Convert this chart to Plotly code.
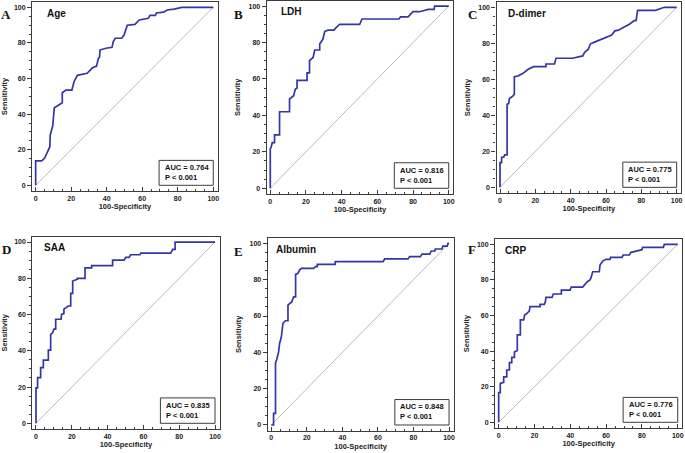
import plotly.graph_objects as go

# ---------------- data ----------------
markers = ["Age", "LDH", "D-dimer", "SAA", "Albumin", "CRP"]
panel_letters = ["A", "B", "C", "D", "E", "F"]
auc_values = ["0.764", "0.816", "0.775", "0.835", "0.848", "0.776"]
p_values = ["< 0.001", "< 0.001", "< 0.001", "< 0.001", "< 0.001", "< 0.001"]
tick_values = [0, 20, 40, 60, 80, 100]

age_fpr = [0, 0, 3.4, 5, 8, 8.2, 9.6, 10.5, 12.8, 15, 15, 17, 20.4, 21.6, 23.5, 29, 32, 34.3, 35.3, 36, 36.2,
           39.6, 43, 43.7, 44.8, 48.4, 49.7, 51.6, 55.9, 58.3, 63.4, 64.4, 67.4, 68, 72, 74, 78, 82.2, 100]
age_sens = [0, 13.7, 13.7, 15.2, 21.7, 28.3, 33.3, 43.6, 45, 46.4, 52, 53.5, 53.5, 58.2, 61.8, 62.9, 66, 67, 71.3,
            72, 76, 77, 77.5, 80.7, 82.6, 82.6, 84.3, 89.9, 90.4, 92.9, 93.8, 95.5, 95.5, 96.8, 97.3, 98.5, 99, 100, 100]

ldh_fpr = [0, 0, 0.5, 1.1, 2.4, 2.4, 5.2, 5.2, 10.8, 10.8, 13.1, 14, 15, 15, 20.6, 20.6, 22, 22, 24, 24.9,
           27.7, 27.7, 29.5, 30.5, 32.3, 35.7, 37, 38.9, 50.1, 51.4, 72.1, 73, 77.2, 79, 80, 83.7, 88.4, 91.8, 92.1, 100]
ldh_sens = [0, 21.6, 22.5, 25, 25, 29.3, 29.3, 42, 42, 49, 50.8, 54.3, 55, 59.2, 59.2, 63.3, 63.3, 70, 71.8, 75.9,
            75.9, 79.2, 81.9, 86, 86.8, 86.8, 88.3, 89.9, 89.9, 92.9, 92.9, 94.1, 94.1, 95.6, 96.9, 96.9, 98.2, 98.2, 100, 100]

ddimer_fpr = [0, 0, 0.9, 0.9, 2.1, 2.6, 4, 4, 4.9, 5.3, 7.2, 8.1, 8.1, 10, 13, 16, 18.9, 26, 26, 30.8,
              31.7, 41, 46.8, 47.9, 50, 51.1, 52.8, 57.7, 63.2, 65, 67, 70, 73.2, 76, 77, 77.9, 88, 93, 100]
ddimer_sens = [0, 13.7, 13.7, 16.7, 16.7, 18, 18, 46.1, 46.5, 49.3, 50.7, 51.7, 61.5, 61.8, 63.3, 65.6, 67, 67, 68.5, 68.5,
               71.7, 71.7, 73, 75, 76.7, 79.6, 80.4, 82.2, 84.6, 86.9, 87.3, 88.9, 90.6, 92.6, 92.6, 98.3, 98.3, 100, 100]

saa_fpr = [0, 0, 0.9, 0.9, 2.6, 2.6, 4.1, 4.1, 6.9, 6.9, 8.2, 8.2, 9.3, 10, 11, 11, 14, 14.3, 15.6, 15.6,
           18, 19.4, 19.4, 20.5, 20.5, 23.1, 23.1, 27.4, 27.4, 31.1, 31.1, 42.8, 42.8, 49.2, 50.1, 52, 52.9, 58.1, 58.5, 75.2,
           76.4, 77.7, 77.7, 100]
saa_sens = [0, 19.5, 19.5, 25.2, 25.2, 30.7, 30.7, 34.9, 34.9, 40.4, 40.4, 49.1, 50, 52, 52, 57.4, 57.4, 60.1, 60.5, 63,
            64.7, 64.7, 71.7, 71.7, 78.5, 79.5, 80, 80, 85.8, 85.8, 87, 87, 90, 90, 91.5, 91.5, 93, 93, 93.9, 93.9,
            96, 96, 100, 100]

albumin_fpr = [0, 1.3, 1.3, 2.4, 2.4, 3, 4.1, 4.7, 5.6, 6.6, 7.9, 9.4, 9.4, 11.6, 12.6, 13.7, 13.7, 15, 15.9, 16.9,
               23.8, 25, 25.9, 25.9, 36, 36, 62.9, 63.8, 76.9, 77.9, 83.9, 84.8, 89.1, 90, 92, 92.3, 96, 96.5, 99, 99.4, 100]
albumin_sens = [0, 0, 6.4, 6.4, 34.3, 35.8, 40, 45, 48, 56, 57.4, 57.4, 66, 67.9, 70.5, 70.5, 82.9, 83.5, 85.3, 86.2,
                86.2, 87.2, 87.2, 88.4, 88.4, 89.9, 89.9, 91.4, 91.4, 92.7, 92.7, 94.1, 94.1, 95.8, 95.8, 96.9, 96.9, 98.5, 98.5, 100, 100]

crp_fpr = [0, 0, 0.9, 0.9, 2.8, 2.8, 4.5, 4.5, 6, 6, 7.3, 7.3, 8.8, 8.8, 10.4, 10.4, 12.1, 12.1, 14, 14.5,
           15.8, 17.1, 17.5, 23.1, 23.1, 25.5, 26, 26.4, 29.8, 30.5, 35, 35, 39.9, 40.5, 46.9, 47.9, 49, 49.5, 51, 51.6,
           52.5, 56.2, 56.6, 58.1, 59.9, 62.2, 62.5, 68.9, 69.5, 73, 73.9, 77.3, 78, 80, 80.4, 92, 92.5, 100]
crp_sens = [0, 16.7, 16.7, 21.9, 22.5, 25.5, 25.5, 29.4, 29.4, 33.5, 33.5, 36.5, 36.5, 39.5, 40.4, 49.1, 49.1, 57.5, 57.5, 60.3,
            61.2, 62.5, 65, 65, 66.3, 66.3, 67.4, 70.2, 70.2, 72.1, 72.1, 74.3, 74.3, 76, 76, 77.2, 78, 79, 80, 81.3,
            84.6, 84.6, 88.4, 90.6, 91.6, 91.6, 92.7, 92.7, 94, 94, 95.5, 96, 96.5, 97, 98.3, 98.3, 100, 100]

curves_fpr = [age_fpr, ldh_fpr, ddimer_fpr, saa_fpr, albumin_fpr, crp_fpr]
curves_sens = [age_sens, ldh_sens, ddimer_sens, saa_sens, albumin_sens, crp_sens]

# ---------------- layout / style ----------------
W, H = 685, 453
# plot frame in pixels: left, right, top, bottom
frames = [(32.1, 217.7, 1.96, 191.0), (266.7, 453.2, 0.6, 194.1), (496.5, 681.1, 1.9, 193.1),
          (32.4, 219.5, 236.6, 429.1), (267.7, 453.5, 237.9, 430.8), (495.1, 682.2, 239.0, 428.0)]
letter_pos = [(6, 15), (239, 14), (472, 14), (6, 249.5), (239, 251), (472, 249)]
title_x = [5, 4.7, 3.4, 3.2, 1.5, 2.6]

XR = [-2, 102.5]
YR = [-3.2, 103]
AX_COLOR = "#3c3c3c"
CURVE_COLOR = "#3535a3"
SANS = "Liberation Sans"
SERIF = "Liberation Serif"

fig = go.Figure()
layout = dict(width=W, height=H, margin=dict(l=0, r=0, t=0, b=0),
              paper_bgcolor="white", plot_bgcolor="white", showlegend=False)
annotations = []
shapes = []

for i in range(6):
    k = "" if i == 0 else str(i + 1)
    xa, ya = "x" + k, "y" + k
    l, r, t, b = frames[i]

    def axis_style(tickdir):
        return dict(showline=True, linecolor=AX_COLOR, linewidth=1.2, mirror=True,
                    ticks=tickdir, ticklen=4, tickwidth=1, tickcolor=AX_COLOR,
                    tickmode="array", tickvals=tick_values, ticktext=[str(v) for v in tick_values],
                    minor=dict(tickmode="linear", tick0=0, dtick=5, ticks=tickdir, ticklen=2,
                               tickcolor=AX_COLOR, tickwidth=1, showgrid=False),
                    showgrid=False, zeroline=False, automargin=False,
                    tickfont=dict(family=SANS, size=7, color="#222", weight="bold"))

    xd = axis_style("inside")
    xd.update(domain=[l / W, r / W], range=XR, anchor=ya,
              title=dict(text="100-Specificity", standoff=3,
                         font=dict(family=SANS, size=7.5, color="#222", weight="bold")))
    yd = axis_style("outside")
    yd.update(domain=[1 - b / H, 1 - t / H], range=YR, anchor=xa,
              title=dict(text="Sensitivity", standoff=6,
                         font=dict(family=SANS, size=7.5, color="#222", weight="bold")))
    layout["xaxis" + k] = xd
    layout["yaxis" + k] = yd

    # diagonal reference line
    fig.add_trace(go.Scatter(x=[0, 100], y=[0, 100], mode="lines", xaxis=xa, yaxis=ya,
                             line=dict(color="#a8a8a8", width=0.8), hoverinfo="skip"))
    # ROC curve
    fig.add_trace(go.Scatter(x=curves_fpr[i], y=curves_sens[i], mode="lines", xaxis=xa, yaxis=ya,
                             line=dict(color=CURVE_COLOR, width=1.7), name=markers[i]))

    # AUC box
    shapes.append(dict(type="rect", xref=xa, yref=ya, x0=69.5, x1=100, y0=0, y1=14,
                       line=dict(color=AX_COLOR, width=1), fillcolor="white", layer="above"))
    annotations.append(dict(xref=xa, yref=ya, x=71.5, y=7.2, xanchor="left", yanchor="middle",
                            text=f"AUC = {auc_values[i]}<br>P {p_values[i]}", showarrow=False, align="left",
                            font=dict(family=SANS, size=7.5, color="#111", weight="bold")))
    # marker title
    annotations.append(dict(xref=xa, yref=ya, x=title_x[i], y=96.8, xanchor="left", yanchor="middle",
                            text=markers[i], showarrow=False,
                            font=dict(family=SANS, size=10, color="#111", weight="bold")))
    # panel letter
    lx, ly = letter_pos[i]
    annotations.append(dict(xref="paper", yref="paper", x=lx / W, y=1 - ly / H, xanchor="center",
                            yanchor="middle", text=panel_letters[i], showarrow=False,
                            font=dict(family=SERIF, size=13, color="#111", weight="bold")))

layout["annotations"] = annotations
layout["shapes"] = shapes
fig.update_layout(**layout)
fig.write_html("out.html", config={"displayModeBar": False},
               post_script="document.body.style.margin='0';document.body.style.overflow='hidden';")
